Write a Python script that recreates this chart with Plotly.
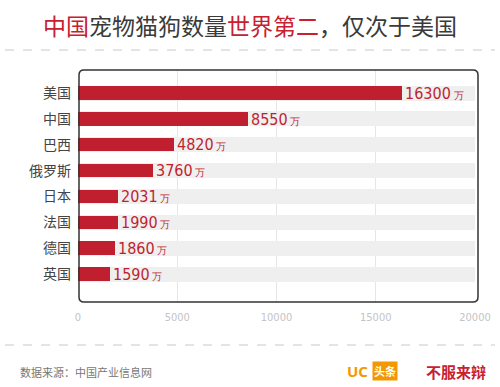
import plotly.graph_objects as go

countries = ["美国", "中国", "巴西", "俄罗斯", "日本", "法国", "德国", "英国"]
values = [16300, 8550, 4820, 3760, 2031, 1990, 1860, 1590]
x_ticks = [0, 5000, 10000, 15000, 20000]
unit = "万"

W, H = 500, 387
L, R, T, B = 78, 475, 70, 302
def px(x):
    return (x - L) / (R - L)
def py(y):
    return (B - y) / (B - T)

RED = "#c01f2f"
CJK = "Noto Sans CJK SC"
NARROW = "DejaVu Sans Condensed, Liberation Sans Narrow, sans-serif"

idx = list(range(len(countries)))
fig = go.Figure()
fig.add_trace(go.Bar(
    y=idx, x=[x_ticks[-1]] * len(countries), orientation="h",
    marker=dict(color="#efefef", line=dict(width=0)), width=0.58,
    hoverinfo="skip", showlegend=False))
fig.add_trace(go.Bar(
    y=idx, x=values, orientation="h",
    marker=dict(color=RED, line=dict(width=0)), width=0.52,
    text=[f"{v}<span style='font-size:10px'> {unit}</span>" for v in values],
    textposition="outside", cliponaxis=False, constraintext="none",
    textfont=dict(family=NARROW, size=16, color=RED),
    showlegend=False))

shapes = []
x0, x1, y0, y1 = px(79), px(478), py(70), py(302)
rx, ry = 5 / (R - L), 5 / (B - T)
path = (f"M {x0+rx},{y0} L {x1-rx},{y0} Q {x1},{y0} {x1},{y0-ry} "
        f"L {x1},{y1+ry} Q {x1},{y1} {x1-rx},{y1} L {x0+rx},{y1} "
        f"Q {x0},{y1} {x0},{y1+ry} L {x0},{y0-ry} Q {x0},{y0} {x0+rx},{y0} Z")
shapes.append(dict(type="path", path=path, xref="paper", yref="paper",
                   line=dict(color="#333333", width=1.5), layer="above"))
for yy in (50, 345):
    shapes.append(dict(type="line", xref="paper", yref="paper",
                       x0=px(5), x1=px(495), y0=py(yy), y1=py(yy),
                       line=dict(color="#c8c8c8", width=1, dash="dash")))

annotations = [
    dict(text="<span style='color:#c8202f'>中国</span>宠物猫狗数量<span style='color:#c8202f'>世界第二</span>，仅次于美国",
         xref="paper", yref="paper", x=px(250), y=py(25), showarrow=False,
         xanchor="center", yanchor="middle",
         font=dict(family=CJK, size=23, color="#3a3a3a")),
    dict(text="数据来源：中国产业信息网", xref="paper", yref="paper",
         x=px(18), y=py(372), showarrow=False, xanchor="left", yanchor="middle",
         font=dict(family=CJK, size=11, color="#777777")),
    dict(text="<b>UC</b>", xref="paper", yref="paper",
         x=px(345), y=py(371), showarrow=False, xanchor="left", yanchor="middle",
         font=dict(family="Noto Sans", size=15, color="#f39800")),
    dict(text="<b>头条</b>", xref="paper", yref="paper",
         x=px(372), y=py(371), showarrow=False, xanchor="left", yanchor="middle",
         bgcolor="#f39800", borderpad=1,
         font=dict(family=CJK, size=11, color="white")),
    dict(text="<b>不服来辩</b>", xref="paper", yref="paper",
         x=px(488), y=py(371), showarrow=False, xanchor="right", yanchor="middle",
         font=dict(family=CJK, size=15, color="#c8202f")),
]

fig.update_layout(
    width=W, height=H, margin=dict(l=L, r=W - R, t=T, b=H - B, autoexpand=False),
    paper_bgcolor="white", plot_bgcolor="white",
    barmode="overlay", bargap=0,
    shapes=shapes, annotations=annotations,
    xaxis=dict(range=[0, 20000], tickvals=x_ticks, ticktext=[str(t) for t in x_ticks],
               showgrid=True, gridcolor="#e6e6e6", gridwidth=1, zeroline=False,
               showline=False, ticks="", ticklen=0, automargin=False,
               ticklabelstandoff=7,
               tickfont=dict(family=NARROW, size=11, color="#c4c4c4")),
    yaxis=dict(range=[7 + 1.08, -0.89], tickvals=idx, ticktext=countries,
               showgrid=False, zeroline=False, showline=False, ticks="",
               ticklabelstandoff=6, automargin=False,
               tickfont=dict(family=CJK, size=14, color="#444444")),
)
fig.write_html("out.html", config={"displayModeBar": False},
               post_script="document.body.style.margin='0';document.body.style.overflow='hidden';")
